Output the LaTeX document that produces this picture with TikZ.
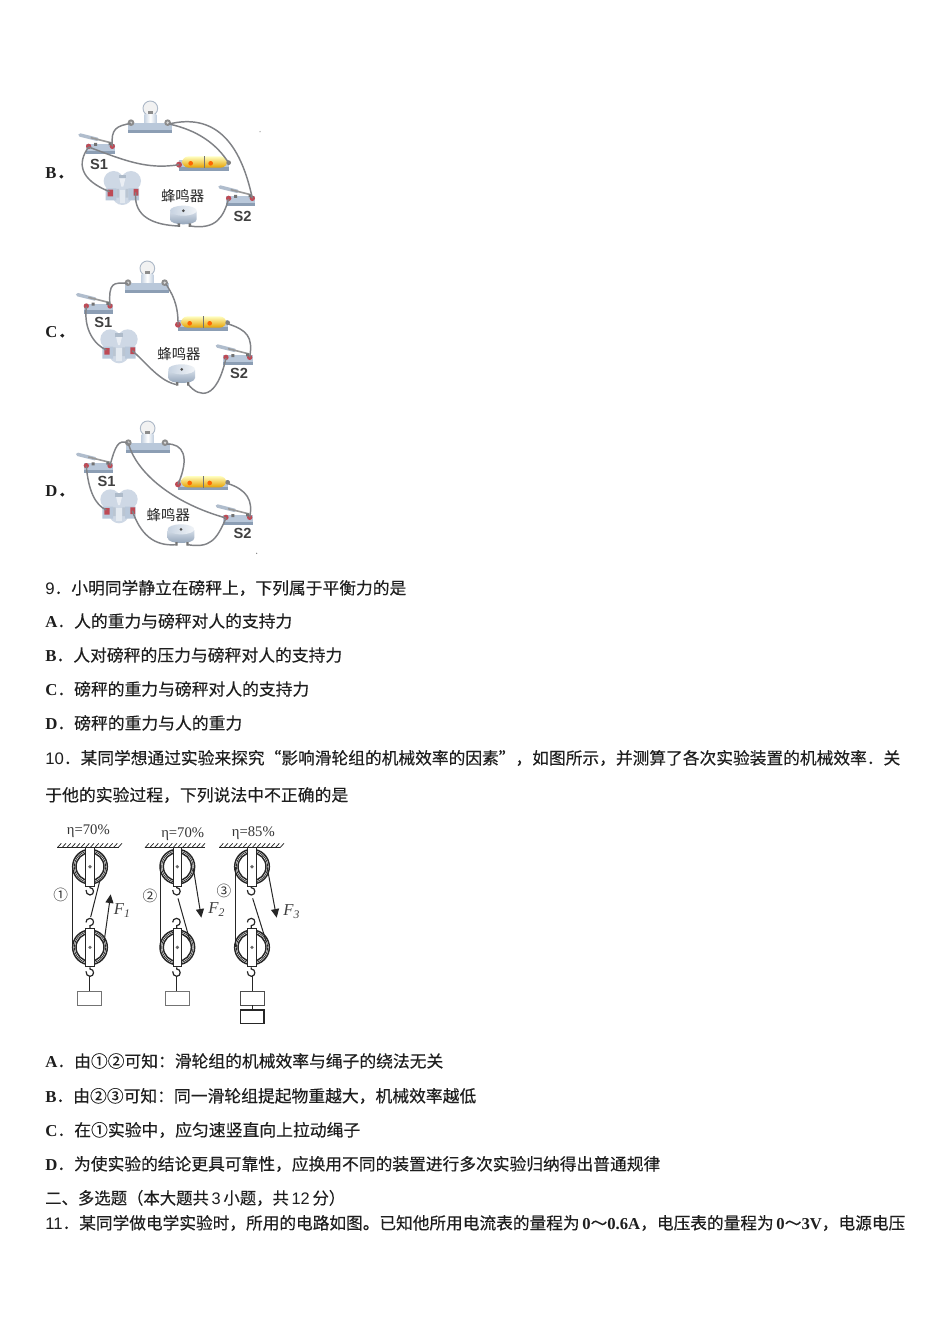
\documentclass[tikz,border=0pt]{standalone}
\usepackage{graphicx}
\usepackage{fontspec}
\setmainfont{Liberation Serif}
\newfontfamily\cjk[FakeBold=0.25]{Noto Sans CJK SC}
\newfontfamily\cjkp{Noto Sans CJK SC}
\newfontfamily\lsans{Liberation Sans}
\usetikzlibrary{arrows.meta}
\definecolor{ink}{HTML}{1E1E1E}
\definecolor{basec}{HTML}{B9C8DA}
\definecolor{based}{HTML}{8C9EB4}
\definecolor{redt}{HTML}{BE4A55}
\definecolor{wirec}{HTML}{808286}
\newcommand{\lat}[1]{{\rmfamily\fontsize{12.5}{14}\selectfont\bfseries #1}}
\newcommand{\dig}[1]{{\lsans\fontsize{12.5}{14}\selectfont #1}}
\newcommand{\tl}[5]{\node[txt] (#1) at (#2,#3) {\resizebox{\dimexpr #4pt*3/4\relax}{\height}{\cjk\fontsize{12.5}{14}\selectfont #5}};}
\tikzset{
  txt/.style={anchor=west,inner sep=0pt,text=ink},
  wire/.style={draw=wirec,line width=1.1pt},
  slabel/.style={font=\lsans\bfseries\fontsize{11}{12}\selectfont,text=black!75,inner sep=0pt},
  buzlab/.style={font=\cjkp\fontsize{10.8}{12}\selectfont,text=black!85,inner sep=0pt},
  opt/.style={font=\bfseries\fontsize{12.5}{14}\selectfont,text=ink,inner sep=0pt,anchor=west},
  circ/.style={x=.25pt,y=-.25pt},
  rope/.style={draw=black!85,line width=.75pt},
  eta/.style={font=\fontsize{11}{12}\selectfont,text=black!80,inner sep=0pt},
  ff/.style={font=\itshape\fontsize{12.5}{13}\selectfont,text=black!75,inner sep=0pt},
  cnum/.style={font=\cjkp\fontsize{11}{13}\selectfont,text=black!80,inner sep=0pt},
  lampic/.pic={
    \fill[black!5] (0,-50) circle[radius=22];
    \draw[basec!80!gray,line width=.7pt] (0,-50) circle[radius=22];
    \fill[black!45] (-8,-42) rectangle (8,-32);
    \shade[left color=basec!80,right color=basec!90,middle color=white] (-18,-32) rectangle (18,0);
    \fill[basec] (-66,-6) rectangle (66,24);
    \fill[based] (-66,14) rectangle (66,24);
    \fill[black!45] (-58,-7) circle[radius=10] (52,-7) circle[radius=10];
    \fill[black!15] (-58,-7) circle[radius=4] (52,-7) circle[radius=4];
    \coordinate (-l) at (-58,-5);
    \coordinate (-r) at (56,-3);
  },
  swpic/.pic={
    \fill[basec] (-44,-6) rectangle (44,24);
    \fill[based] (-44,14) rectangle (44,24);
    \draw[basec!85!gray,line width=2.6pt,line cap=round] (-62,-33) -- (-10,-20);
    \draw[black!40,line width=1.2pt] (-30,-25) -- (34,-9);
    \fill[redt] (-36,1) circle[radius=8] (35,1) circle[radius=8];
    \fill[black!55] (-20,-9) rectangle (-11,0) (24,-11) rectangle (33,-2);
    \coordinate (-l) at (-36,3);
    \coordinate (-r) at (35,1);
  },
  batpic/.pic={
    \fill[basec] (-2,10) rectangle (146,42);
    \fill[based] (-2,32) rectangle (146,42);
    \shade[top color=yellow!25!white,bottom color=orange!60!yellow!90!black,rounded corners=5pt] (6,-1) rectangle (142,33);
    \draw[black!55,line width=.8pt] (74,-1) -- (74,34);
    \fill[orange!80!red] (32,20) circle[radius=7] (92,20) circle[radius=7];
    \fill[redt] (-3,24) circle[radius=9];
    \fill[black!50] (146,18) circle[radius=7];
    \coordinate (-l) at (-3,24);
    \coordinate (-r) at (148,22);
  },
  fanpic/.pic={
    \fill[basec!70!white] (-26,-22) circle[radius=30] (26,-22) circle[radius=30] (0,20) circle[radius=30];
    \fill[white!70!basec] (-9,-30) -- (9,-30) -- (3,-5) -- (-3,-5) -- cycle;
    \fill[based!70] (-11,-40) rectangle (11,-30);
    \fill[basec] (-50,0) rectangle (-18,36) (18,0) rectangle (50,36);
    \fill[based!60] (-18,2) rectangle (-10,28) (10,2) rectangle (18,28);
    \fill[white!60!basec] (-8,5) rectangle (8,44);
    \fill[redt] (-44,4) rectangle (-28,24) (34,2) rectangle (48,22);
    \coordinate (-l) at (-38,10);
    \coordinate (-r) at (40,12);
  },
  buzpic/.pic={
    \shade[top color=basec!60!white,bottom color=based] (-40,-8) -- (-40,16) .. controls (-40,36) and (40,36) .. (40,16) -- (40,-8) -- cycle;
    \shade[left color=basec!80,right color=white!80!basec] (0,-10) circle[x radius=40,y radius=15];
    \fill[black!70] (0,-10) circle[radius=4.5];
    \fill[black!55] (-17,28) rectangle (-10,39) (16,28) rectangle (23,39);
    \coordinate (-l) at (-14,36);
    \coordinate (-r) at (20,36);
  },
  pulpic/.pic={
    \draw[rope,fill=white,line width=1.1pt] (0,0) circle[radius=52];
    \draw[rope,line width=.5pt] (0,0) circle[radius=47];
    \draw[rope,line width=1.1pt] (0,0) circle[radius=42];
    \draw[rope,fill=white] (-13,-57) rectangle (13,58);
    \fill[black!60] (0,0) circle[radius=5.5];
  },
  hookd/.pic={
    \draw[rope,line width=.9pt] (0,0) -- (0,5) .. controls (14,5) and (14,27) .. (0,27) .. controls (-8,27) and (-12,20) .. (-12,12);
  },
  hooku/.pic={
    \draw[rope,line width=.9pt] (0,0) -- (0,-8) .. controls (14,-8) and (14,-30) .. (0,-30) .. controls (-8,-30) and (-12,-24) .. (-12,-18);
  },
  ceilpic/.pic={
    \draw[rope,line width=.8pt] (0,0) -- (#1,0);
    \foreach \hx in {0,14,...,#1} {\draw[rope,line width=.55pt] (\hx,0) -- ++(12,-13);}
  }
}
\begin{document}
\begin{tikzpicture}[x=.75pt,y=-.75pt]
\useasboundingbox (0,0) rectangle (950,1344);
\fill[white] (0,0) rectangle (950,1344);

% ---- option labels
\node[opt] (labB) at (45,173.5) {B{\cjk ．}};
\node[opt] (labC) at (45,332.5) {C{\cjk ．}};
\node[opt] (labD) at (45,491.5) {D{\cjk ．}};

% ---- circuit B
\begin{scope}[shift={(40,90)},circ]
\pic (L) at (331,105) {lampic};
\pic (Sa) at (182,168) {swpic};
\pic (Bt) at (420,200) {batpic};
\pic (Fa) at (247,295) {fanpic};
\pic (Bz) at (430,372) {buzpic};
\pic (Sb) at (602,324) {swpic};
\node[slabel] (s1b) at (177,223) {S1};
\node[slabel] (s2b) at (608,378) {S2};
\node[buzlab] (bzb) at (428,318) {蜂鸣器};
\draw[wire] (L-l) .. controls (230,108) and (212,115) .. (Sa-r);
\draw[wire] (L-r) .. controls (520,70) and (600,150) .. (Sb-r);
\draw[wire] (L-r) .. controls (470,120) and (530,160) .. (Bt-r);
\draw[wire] (Sa-l) .. controls (110,220) and (120,270) .. (Fa-l);
\draw[wire] (Sa-l) .. controls (250,210) and (320,240) .. (Bt-l);
\draw[wire] (Fa-r) .. controls (280,380) and (340,405) .. (Bz-l);
\draw[wire] (Bz-r) .. controls (530,420) and (550,380) .. (Sb-l);
\fill[black!40] (660,125) circle[radius=2];
\end{scope}

% ---- circuit C
\begin{scope}[shift={(40,250)},circ]
\pic (L) at (322,105) {lampic};
\pic (Sa) at (175,167) {swpic};
\pic (Bt) at (417,200) {batpic};
\pic (Fa) at (237,290) {fanpic};
\pic (Bz) at (425,368) {buzpic};
\pic (Sb) at (594,321) {swpic};
\node[slabel] (s1c) at (190,217) {S1};
\node[slabel] (s2c) at (597,370) {S2};
\node[buzlab] (bzc) at (417,312) {蜂鸣器};
\draw[wire] (L-l) .. controls (220,98) and (205,95) .. (Sa-r);
\draw[wire] (L-r) .. controls (395,130) and (415,160) .. (Bt-l);
\draw[wire] (Bt-r) .. controls (620,240) and (640,260) .. (Sb-r);
\draw[wire] (Sa-l) .. controls (130,240) and (165,285) .. (Fa-l);
\draw[wire] (Fa-r) .. controls (320,340) and (360,395) .. (Bz-l);
\draw[wire] (Bz-r) .. controls (480,445) and (530,450) .. (Sb-l);
\end{scope}

% ---- circuit D
\begin{scope}[shift={(40,410)},circ]
\pic (L) at (323,105) {lampic};
\pic (Sa) at (175,166) {swpic};
\pic (Bt) at (417,199) {batpic};
\pic (Fa) at (237,290) {fanpic};
\pic (Bz) at (423,368) {buzpic};
\pic (Sb) at (594,321) {swpic};
\node[slabel] (s1d) at (200,215) {S1};
\node[slabel] (s2d) at (608,370) {S2};
\node[buzlab] (bzd) at (385,316) {蜂鸣器};
\draw[wire] (L-l) .. controls (235,85) and (225,110) .. (Sa-r);
\draw[wire] (L-r) .. controls (430,100) and (450,140) .. (Bt-l);
\draw[wire] (L-l) .. controls (290,190) and (400,280) .. (Sb-l);
\draw[wire] (Bt-r) .. controls (620,240) and (640,270) .. (Sb-r);
\draw[wire] (Sa-l) .. controls (145,240) and (165,285) .. (Fa-l);
\draw[wire] (Fa-r) .. controls (300,370) and (340,410) .. (Bz-l);
\draw[wire] (Bz-r) .. controls (510,415) and (530,390) .. (Sb-l);
\fill[black!50] (650,430) circle[radius=2];
\end{scope}

% ---- text block 1
\tl{q9}{45}{588}{361}{\dig{9}．小明同学静立在磅秤上，下列属于平衡力的是}
\tl{q9a}{45}{621}{247}{\lat{A}．人的重力与磅秤对人的支持力}
\tl{q9b}{45}{655}{297}{\lat{B}．人对磅秤的压力与磅秤对人的支持力}
\tl{q9c}{45}{689}{264}{\lat{C}．磅秤的重力与磅秤对人的支持力}
\tl{q9d}{45}{723}{197}{\lat{D}．磅秤的重力与人的重力}
\tl{q10}{45}{758}{855}{\dig{10}．某同学想通过实验来探究“影响滑轮组的机械效率的因素”，如图所示，并测算了各次实验装置的机械效率．关}
\tl{q10b}{45}{795}{303}{于他的实验过程，下列说法中不正确的是}

% ---- pulleys
\begin{scope}[shift={(40,815)},circ]
\node[eta] (e1) at (145,50) {η=70\%};
\node[eta] (e2) at (428,57) {η=70\%};
\node[eta] (e3) at (640,55) {η=85\%};
\pic at (52,98) {ceilpic=186};
\pic at (315,98) {ceilpic=180};
\pic at (538,98) {ceilpic=182};
% set 1
\pic (Pa) at (150,155) {pulpic};
\pic (Pb) at (150,397) {pulpic};
\pic at (150,213) {hookd};
\pic at (150,340) {hooku};
\pic at (150,457) {hookd};
\draw[rope] (98,155) -- (98,397);
\draw[rope] (180,195) -- (152,306);
\draw[rope] (148,484) -- (148,530);
\node[draw=black!55,fill=white,minimum width=18pt,minimum height=10pt,inner sep=0pt,line width=.5pt] (w1) at (149,550) {};
\draw[rope,-{Triangle[length=6.5pt,width=6pt]}] (192,382) -- (212,238);
\node[ff] (f1) at (247,287) {F\textsubscript{1}};
\node[cnum] (n1) at (62,240) {①};
% set 2
\pic (Pc) at (412,155) {pulpic};
\pic (Pd) at (412,397) {pulpic};
\pic at (410,213) {hookd};
\pic at (410,340) {hooku};
\pic at (410,457) {hookd};
\draw[rope] (360,155) -- (360,397);
\draw[rope] (414,250) -- (450,378);
\draw[rope] (410,484) -- (410,530);
\node[draw=black!55,fill=white,minimum width=18pt,minimum height=10pt,inner sep=0pt,line width=.5pt] (w2) at (411,550) {};
\draw[rope,-{Triangle[length=6.5pt,width=6pt]}] (460,160) -- (484,308);
\node[ff] (f2) at (530,284) {F\textsubscript{2}};
\node[cnum] (n2) at (330,243) {②};
% set 3
\pic (Pe) at (636,155) {pulpic};
\pic (Pf) at (636,397) {pulpic};
\pic at (634,213) {hookd};
\pic at (634,340) {hooku};
\pic at (634,457) {hookd};
\draw[rope] (585,155) -- (585,397);
\draw[rope] (638,250) -- (678,378);
\draw[rope] (636,484) -- (636,530);
\node[draw=black!70,fill=white,minimum width=17.5pt,minimum height=10pt,inner sep=0pt,line width=.6pt] (w3) at (637,550) {};
\node[draw=black!85,fill=white,minimum width=17.5pt,minimum height=10pt,inner sep=0pt,line width=.9pt] (w4) at (637,605) {};
\draw[rope] (w3) -- (w4);
\draw[rope,-{Triangle[length=6.5pt,width=6pt]}] (682,160) -- (710,308);
\node[ff] (f3) at (755,290) {F\textsubscript{3}};
\node[cnum] (n3) at (552,227) {③};
\end{scope}

% ---- text block 2
\tl{a}{45}{1061}{398}{\lat{A}．由①②可知：滑轮组的机械效率与绳子的绕法无关}
\tl{b}{45}{1096}{431}{\lat{B}．由②③可知：同一滑轮组提起物重越大，机械效率越低}
\tl{c}{45}{1130}{315}{\lat{C}．在①实验中，应匀速竖直向上拉动绳子}
\tl{d}{45}{1164}{615}{\lat{D}．为使实验的结论更具可靠性，应换用不同的装置进行多次实验归纳得出普通规律}
\tl{h2}{45}{1198}{300}{二、多选题（本大题共\,\dig{3}\,小题，共\,\dig{12}\,分）}
\tl{q11}{45}{1223}{860}{\dig{11}．某同学做电学实验时，所用的电路如图。已知他所用电流表的量程为\,\lat{0}～\lat{0.6A}，电压表的量程为\,\lat{0}～\lat{3V}，电源电压}
\end{tikzpicture}
\end{document}
